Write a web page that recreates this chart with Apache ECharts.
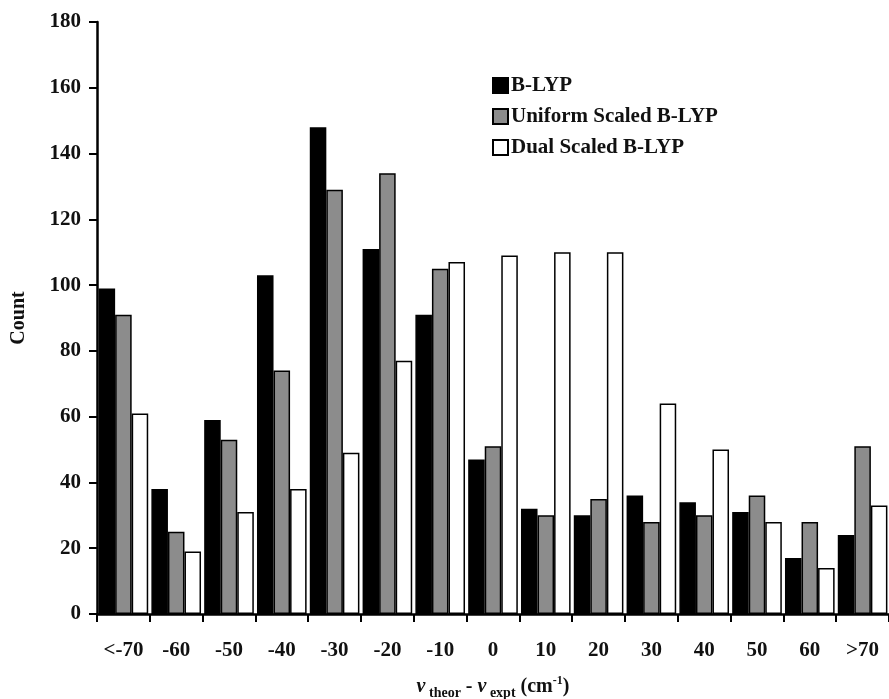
<!DOCTYPE html>
<html>
<head>
<meta charset="utf-8">
<script src="https://cdn.jsdelivr.net/npm/echarts@6/dist/echarts.min.js"></script>
<style>html,body{margin:0;padding:0;background:#fff;}#c{width:889px;height:699px;}</style>
</head>
<body>
<div id="c"></div>
<script>
const categories = ['<-70','-60','-50','-40','-30','-20','-10','0','10','20','30','40','50','60','>70'];
const seriesNames = ['B-LYP','Uniform Scaled B-LYP','Dual Scaled B-LYP'];
const bLYP    = [99, 38, 59, 103, 148, 111, 91, 47, 32, 30, 36, 34, 31, 17, 24];
const uniform = [91, 25, 53, 74, 129, 134, 105, 51, 30, 35, 28, 30, 36, 28, 51];
const dual    = [61, 19, 31, 38, 49, 77, 107, 109, 110, 110, 64, 50, 28, 14, 33];
const yTicks = {min: 0, max: 180, interval: 20};

const FONT = '"Liberation Serif", "Times New Roman", serif';
const FS = 21;
const chart = echarts.init(document.getElementById('c'), null, {renderer: 'canvas'});
const fills = ['#000000', '#8c8c8c', '#ffffff'];
const data = [bLYP, uniform, dual];

chart.setOption({
  animation: false,
  backgroundColor: '#ffffff',
  textStyle: {fontFamily: FONT},
  grid: {left: 97, right: 0, top: 22, bottom: 85, containLabel: false, outerBoundsMode: 'none'},
  legend: {
    orient: 'vertical',
    left: 487,
    top: 70,
    itemWidth: 15,
    itemHeight: 15,
    itemGap: 10,
    icon: 'rect',
    textStyle: {fontFamily: FONT, fontWeight: 'bold', fontSize: FS, color: '#111', padding: [0,0,0,-2]},
    data: seriesNames
  },
  xAxis: {
    type: 'category',
    data: categories,
    boundaryGap: true,
    axisLine: {lineStyle: {color: '#000', width: 2.5}},
    axisTick: {show: true, length: 8, lineStyle: {color: '#000', width: 2}},
    axisLabel: {fontFamily: FONT, fontWeight: 'bold', fontSize: FS, color: '#111', margin: 26, interval: 0},
    name: '{nu|ν}{sub| theor}{t| - }{nu|ν}{sub| expt}{t| (cm}{sup|-1}{t|)}',
    nameLocation: 'middle',
    nameGap: 59,
    nameTextStyle: {
      rich: {
        nu: {fontFamily: FONT, fontStyle: 'italic', fontWeight: 'bold', fontSize: 20, color: '#111', lineHeight: 24, verticalAlign: 'bottom'},
        sub: {fontFamily: FONT, fontWeight: 'bold', fontSize: 14, color: '#111', lineHeight: 24, verticalAlign: 'bottom', padding: [0,0,-3,0]},
        t: {fontFamily: FONT, fontWeight: 'bold', fontSize: 20, color: '#111', lineHeight: 24, verticalAlign: 'bottom'},
        sup: {fontFamily: FONT, fontWeight: 'bold', fontSize: 12, color: '#111', lineHeight: 24, verticalAlign: 'top', padding: [2,0,0,0]}
      }
    }
  },
  yAxis: {
    type: 'value',
    min: yTicks.min,
    max: yTicks.max,
    interval: yTicks.interval,
    splitLine: {show: false},
    axisLine: {show: true, lineStyle: {color: '#000', width: 2.5}},
    axisTick: {show: true, length: 8, lineStyle: {color: '#000', width: 2}},
    axisLabel: {fontFamily: FONT, fontWeight: 'bold', fontSize: FS, color: '#111', margin: 16},
    name: 'Count',
    nameLocation: 'middle',
    nameRotate: 90,
    nameGap: 68,
    nameTextStyle: {fontFamily: FONT, fontWeight: 'bold', fontSize: 20, color: '#111'}
  },
  series: seriesNames.map((n, i) => ({
    name: n,
    type: 'bar',
    data: data[i],
    barGap: '0%',
    barCategoryGap: '6%',
    itemStyle: {color: fills[i], borderColor: '#000', borderWidth: 1.5}
  }))
});
</script>
</body>
</html>
